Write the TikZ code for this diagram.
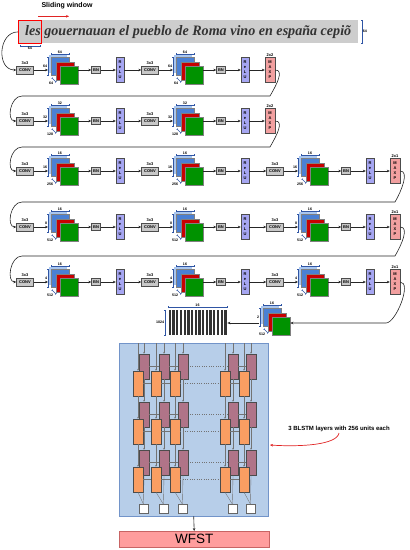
\documentclass[tikz,border=0pt]{standalone}
\usepackage{graphicx}
\usepackage{fontspec}
\setmainfont{Liberation Sans}
\newfontfamily\handfont{Liberation Serif}
\usetikzlibrary{arrows.meta,positioning}
\definecolor{convgray}{HTML}{C8C8C8}
\definecolor{relublue}{HTML}{A6A6F2}
\definecolor{maxpred}{HTML}{F2A0A0}
\definecolor{fmlight}{HTML}{A8C6F0}
\definecolor{fmblue}{HTML}{4A80D4}
\definecolor{fmred}{HTML}{C80000}
\definecolor{fmgreen}{HTML}{009200}
\definecolor{dimblue}{HTML}{2F55A4}
\definecolor{stripgray}{HTML}{CDCDCD}
\definecolor{panelblue}{HTML}{B7CEE9}
\definecolor{paneledge}{HTML}{7294C9}
\definecolor{lstmmauve}{HTML}{B07488}
\definecolor{lstmorange}{HTML}{FA9E62}
\definecolor{wfstpink}{HTML}{FF9D9D}
\definecolor{wfstedge}{HTML}{C86464}
\definecolor{annred}{HTML}{E02424}
\newcommand{\tinyfont}{\fontsize{4}{5}\selectfont\bfseries}
% stack of feature maps: name, x, y (top left of blue map), left, top, bottom sizes
\newcommand{\fmaps}[6]{%
  \fill[fmlight] (#2-2,#3-2) rectangle ++(18,18);
  \node[fmsq,fill=fmblue]  (#1b) at (#2,#3) {};
  \node[fmsq,fill=fmred]   (#1r) at (#2+5,#3+5) {};
  \node[fmsq,fill=fmgreen] (#1)  at (#2+9,#3+9) {};
  \draw[dimline] (#2,#3-3) -- node[above,dimlab] {#5} (#2+18,#3-3);
  \draw[dimline] (#2-3,#3) -- node[left,dimlab] {#4} (#2-3,#3+18);
  \coordinate (#1l) at (#2-3,#3+9);
  \draw[dimline] (#2+1,#3+21) -- (#2+5,#3+25);
  \node[dimlab,anchor=north east] at (#2+3,#3+24) {#6};
}

\begin{document}
\begin{tikzpicture}[x=1pt,y=-1pt,>={Stealth[length=3pt,width=2.6pt]},font=\tinyfont,
    box/.style={draw=black!70,inner sep=0pt,line width=0.4pt},
    convbox/.style={box,fill=convgray,minimum width=17pt,minimum height=8pt},
    bnbox/.style={box,fill=convgray,minimum width=9pt,minimum height=7pt},
    relubox/.style={box,fill=relublue,minimum width=8pt,minimum height=25pt,align=center},
    maxpbox/.style={box,fill=maxpred,minimum width=10pt,minimum height=25pt,align=center},
    toplab/.style={above,inner sep=0.8pt},
    fmsq/.style={anchor=north west,minimum size=18pt,inner sep=0pt,draw=black!50,line width=0.3pt},
    dimline/.style={draw=dimblue,line width=0.4pt,{Bar[width=2pt]}-{Bar[width=2pt]}},
    dimlab/.style={inner sep=0.6pt,font=\fontsize{3.6}{4}\selectfont\bfseries},
    flow/.style={->,draw=black!85,line width=0.6pt},
    thinline/.style={draw=black!55,line width=0.35pt},
    thinarrow/.style={thinline,-{Stealth[length=2pt,width=1.6pt]}},
    bwd/.style={box,fill=lstmmauve,minimum width=10pt,minimum height=25pt},
    fwd/.style={box,fill=lstmorange,minimum width=10pt,minimum height=25pt},
    outsq/.style={draw=black!60,fill=white,minimum size=9pt,inner sep=0pt}]
    \useasboundingbox (0,0) rectangle (410,550);

    % input line image
    \node[font=\fontsize{7}{8}\selectfont\bfseries] (slide) at (67,6) {Sliding window};
    \draw[->,annred,line width=0.7pt] ([yshift=-3.5pt]slide.south west) -- ++(31,0);
    \node[fill=stripgray,anchor=north west,minimum width=340pt,minimum height=23pt,
          inner sep=0pt,text=black!80] (strip) at (18,20)
          {\resizebox{326pt}{10pt}{\handfont\itshape les gouernauan el pueblo de Roma vino en españa cepiõ}};
    \node[draw=red,line width=0.8pt,anchor=north west,minimum width=23pt,minimum height=23pt,
          inner sep=0pt] (win) at (18,20) {};
    \draw[dimline] (20,46) -- node[below,dimlab] {64} (40,46);
    \draw[dimline] (362,20) -- node[right,dimlab] {64} (362,43);

    % conv stages
    \foreach \row/\cy/\nb/\lefl/\topl/\botl/\mpl in
        {1/70/2/64/64/64/2x2, 2/121/2/32/32/128/2x2, 3/171/3/16/16/256/2x1,
         4/227/3/8/16/512/2x1, 5/282/3/4/16/512/2x1} {
      \foreach \blk in {1,...,\nb} {
        \pgfmathsetmacro\cx{25+125*(\blk-1)}
        \node[convbox] (conv\row\blk) at (\cx,\cy) {CONV};
        \node[toplab] at (conv\row\blk.north) {3x3};
        \fmaps{fm\row\blk}{\cx+26}{\cy-13}{\lefl}{\topl}{\botl}
        \node[bnbox] (bn\row\blk) at (\cx+71,\cy) {BN};
        \node[relubox] (relu\row\blk) at (\cx+95,\cy) {R\\e\\L\\U};
        \draw[flow] (conv\row\blk.east) -- (conv\row\blk.east -| fm\row\blk l);
        \draw[flow] (fm\row\blk.east |- bn\row\blk.west) -- (bn\row\blk.west);
        \draw[flow] (bn\row\blk) -- (relu\row\blk);
        \ifnum\blk>1
          \pgfmathtruncatemacro\prev{\blk-1}
          \draw[flow] (relu\row\prev) -- (conv\row\blk);
        \fi
      }
      \pgfmathsetmacro\mx{25+125*(\nb-1)+120}
      \node[maxpbox] (maxp\row) at (\mx,\cy) {M\\A\\X\\P};
      \node[toplab] at (maxp\row.north) {\mpl};
      \draw[flow] (relu\row\nb) -- (maxp\row);
    }

    % links between stages
    \draw[flow] (win.west) .. controls +(-20,0) and +(-20,0) .. (conv11.west);
    \foreach \row/\nrow/\tx/\gy in {1/2/270/96, 2/3/270/147, 3/4/395/202, 4/5/395/256}
      \draw[flow] (maxp\row.east) .. controls +(9,0) and +(7,-12) .. (\tx,\gy)
        -- (22,\gy) .. controls (10,\gy) and +(-10,0) .. (conv\nrow1.west);

    % last maps and columns
    \fmaps{fm6}{263}{308}{2}{16}{512}
    \coordinate (bend) at (386,323);
    \draw[flow] (maxp5.east) .. controls +(12,0) and +(10,0) .. (bend) -- (bend -| fm6.east);
    \node[anchor=north west,minimum width=59pt,minimum height=25pt,inner sep=0pt] (stripes) at (168,310) {};
    \foreach \i in {0,...,15}
      \fill[black!80] (168.7+3.7*\i,310) rectangle ++(2.3,25);
    \draw[dimline] (168,307) -- node[above,dimlab] {16} (227,307);
    \draw[dimline] (165,310) -- node[left,dimlab] {1024} (165,335);
    \coordinate (fmout) at (259,323);
    \draw[flow] (fmout) -- (fmout -| stripes.east);

    % blstm panel
    \node[draw=paneledge,fill=panelblue,anchor=north west,minimum width=149pt,
          minimum height=173pt,inner sep=0pt] (lstm) at (119,343) {};
    \foreach \lay/\ty in {1/354, 2/402, 3/450} {
      \foreach \col/\bx in {1/144, 2/164, 3/183, 4/233, 5/251}
        \node[bwd] (b\lay\col) at (\bx,\ty+12.5) {};
      \foreach \col/\fx in {1/138, 2/156, 3/175, 4/225, 5/244}
        \node[fwd] (f\lay\col) at (\fx,\ty+29.5) {};
    }
    \foreach \col in {1,...,5} {
      \draw[thinarrow] (b1\col.north |- lstm.north) -- (b1\col.north);
      \draw[thinarrow] (f1\col.north |- lstm.north) -- (f1\col.north);
    }
    \foreach \lay/\nxt in {1/2, 2/3}
      \foreach \col in {1,...,5} {
        \draw[thinarrow] (b\lay\col.south) -- (b\nxt\col.north);
        \draw[thinarrow] (f\lay\col.south) -- (f\nxt\col.north);
      }
    \foreach \lay in {1,2,3} {
      \foreach \col/\nxt in {1/2, 2/3, 4/5} {
        \draw[thinline] (b\lay\nxt.west) -- (b\lay\col.east);
        \draw[thinline] (f\lay\col.east) -- (f\lay\nxt.west);
      }
      \draw[thinline,dotted] (b\lay4.west) -- (b\lay3.east);
      \draw[thinline,dotted] (f\lay3.east) -- (f\lay4.west);
    }
    \foreach \col/\ox in {1/143.5, 2/163.5, 3/182.5, 4/232.5, 5/250.5} {
      \node[outsq] (o\col) at (\ox,509) {};
      \draw[thinline] (f3\col.south) -- (o\col.north);
      \draw[thinline] (b3\col.south) -- (o\col.north);
    }

    % annotation
    \node[font=\fontsize{6}{7}\selectfont\bfseries,inner sep=1pt] (ann) at (339,429)
         {3 BLSTM layers with 256 units each};
    \coordinate (annto) at (270,445);
    \draw[->,annred,line width=0.7pt] (ann.south) .. controls +(-2,12) and +(30,2) .. (annto);

    % decoder
    \node[draw=wfstedge,fill=wfstpink,anchor=north west,minimum width=150pt,minimum height=16pt,
          inner sep=0pt,font=\fontsize{13.5}{14}\selectfont] (wfst) at (119,531) {WFST};
    \draw[flow] (lstm.south) -- (wfst.north);
\end{tikzpicture}
\end{document}
